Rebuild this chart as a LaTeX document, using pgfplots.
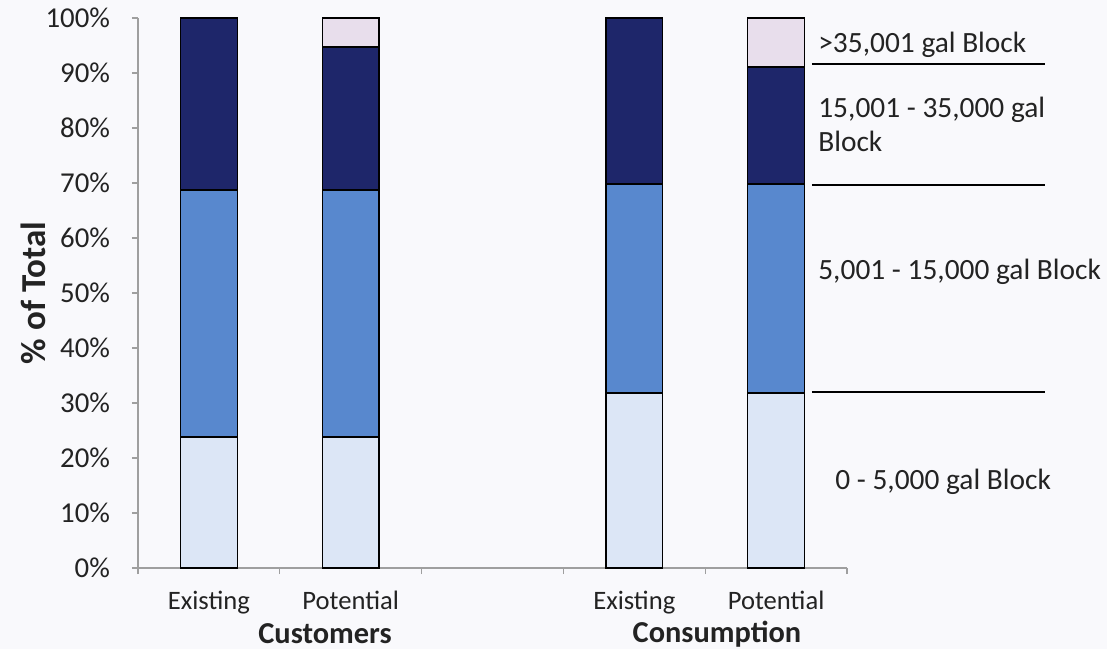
\documentclass[border=0pt]{standalone}
\usepackage{pgfplots}
\pgfplotsset{compat=1.18}
\usepackage{fontspec}
\setmainfont{Carlito}
\definecolor{blkA}{RGB}{220,230,246}
\definecolor{blkB}{RGB}{88,136,206}
\definecolor{blkC}{RGB}{30,38,106}
\definecolor{blkD}{RGB}{232,222,236}
\definecolor{bgc}{RGB}{249,249,252}
\definecolor{txt}{RGB}{35,35,35}
\begin{document}
\begin{tikzpicture}
\fill[bgc] (-69pt,-40.5pt) rectangle (484.5pt,284pt);
\useasboundingbox (-69pt,-40.5pt) rectangle (484.5pt,284pt);
\begin{axis}[
  at={(0pt,0pt)}, anchor=south west,
  scale only axis, width=354.5pt, height=275pt,
  xmin=-0.5, xmax=4.5, ymin=0, ymax=100,
  axis x line=bottom, axis y line=left,
  axis line style={-, gray!75, line width=0.6pt},
  ybar stacked, bar width=0.4,
  xtick={0,1,3,4},
  xticklabels={Existing,Potential,Existing,Potential},
  major x tick style={draw=none},
  extra x ticks={-0.5,0.5,1.5,2.5,3.5,4.5},
  extra x tick labels={},
  extra x tick style={major x tick style={draw=gray!75, line width=0.6pt}},
  tick align=outside,
  major tick length=3pt,
  ytick={0,10,...,100},
  yticklabels={0\%,10\%,20\%,30\%,40\%,50\%,60\%,70\%,80\%,90\%,100\%},
  y tick style={gray!75, line width=0.6pt},
  xticklabel style={font=\fontsize{13.3pt}{16pt}\selectfont, text=txt, yshift=-5pt},
  yticklabel style={font=\fontsize{14.4pt}{16pt}\selectfont, text=txt, xshift=-7.5pt},
  clip=false,
]
% 0 - 5,000 gal block
\addplot[fill=blkA, draw=black, line width=0.75pt] coordinates {(0,23.8) (1,23.8) (3,31.8) (4,31.8)};
% 5,001 - 15,000 gal block
\addplot[fill=blkB, draw=black, line width=0.75pt] coordinates {(0,44.9) (1,44.9) (3,38.0) (4,38.0)};
% 15,001 - 35,000 gal block
\addplot[fill=blkC, draw=black, line width=0.75pt] coordinates {(0,31.3) (1,26.0) (3,30.2) (4,21.3)};
% >35,001 gal block
\addplot[fill=blkD, draw=black, line width=0.75pt] coordinates {(0,0) (1,5.3) (3,0) (4,8.9)};

% y axis title
\node[font=\fontsize{17.5pt}{20pt}\selectfont\bfseries, text=txt, xshift=-52.5pt, rotate=90, anchor=center]
  at (rel axis cs:0,0.5) {\% of Total};

% group captions
\node[font=\fontsize{15.2pt}{17pt}\selectfont\bfseries, text=txt] at (axis cs:0.819,0) [yshift=-33pt] {Customers};
\node[font=\fontsize{15.2pt}{17pt}\selectfont\bfseries, text=txt] at (axis cs:3.583,0) [yshift=-33pt] {Consumption};

% block annotations on the right
\draw[black, line width=0.7pt] (axis cs:4.253,91.6) -- (axis cs:5.896,91.6);
\draw[black, line width=0.7pt] (axis cs:4.253,69.6) -- (axis cs:5.896,69.6);
\draw[black, line width=0.7pt] (axis cs:4.253,32.0) -- (axis cs:5.896,32.0);
\node[font=\fontsize{14.7pt}{17pt}\selectfont, text=txt, anchor=west, inner sep=0pt] at (axis cs:4.295,95.1) {>35,001 gal Block};
\node[font=\fontsize{14.7pt}{17pt}\selectfont, text=txt, anchor=west, inner sep=0pt, align=left] at (axis cs:4.295,80.7) {15,001 - 35,000 gal\\Block};
\node[font=\fontsize{14.7pt}{17pt}\selectfont, text=txt, anchor=west, inner sep=0pt] at (axis cs:4.295,53.8) {5,001 - 15,000 gal Block};
\node[font=\fontsize{14.7pt}{17pt}\selectfont, text=txt, anchor=west, inner sep=0pt] at (axis cs:4.415,15.6) {0 - 5,000 gal Block};
\end{axis}
\end{tikzpicture}
\end{document}
